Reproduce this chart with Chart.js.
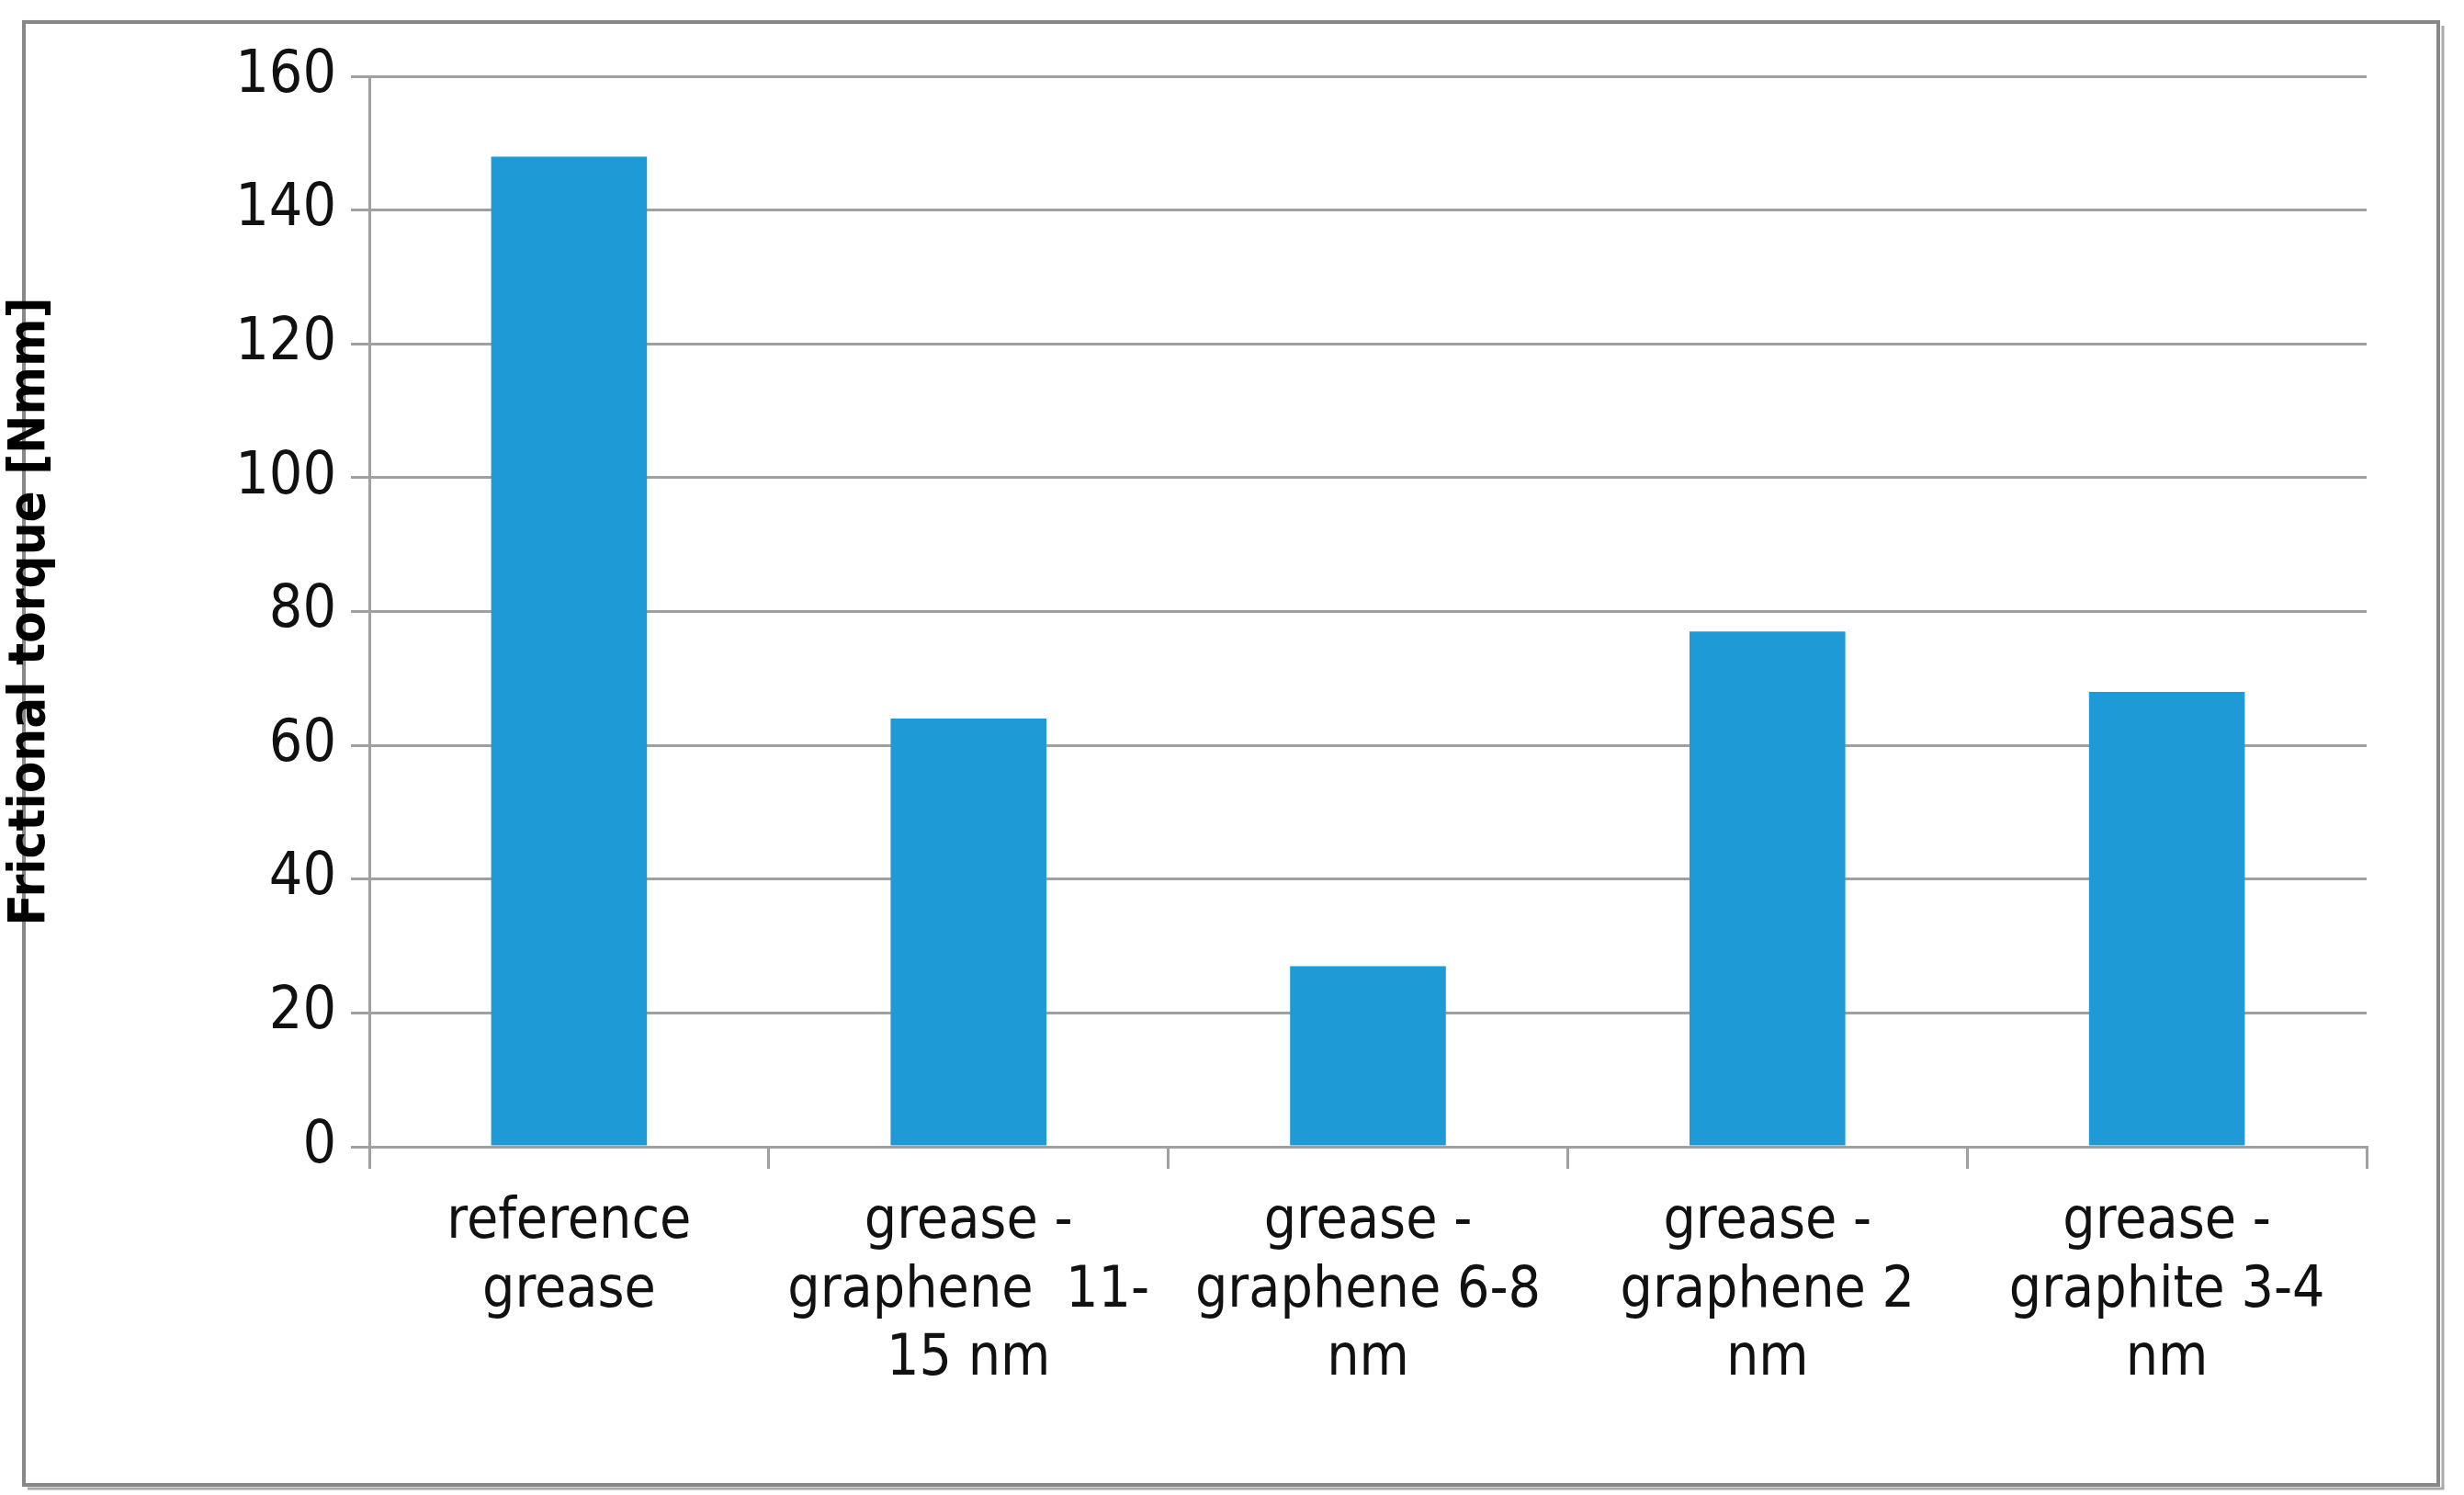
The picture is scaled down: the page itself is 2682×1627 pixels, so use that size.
<!DOCTYPE html>
<html><head><meta charset="utf-8">
<script src="https://cdn.jsdelivr.net/npm/chart.js@4/dist/chart.umd.min.js"></script>
<style>html,body{margin:0;padding:0;background:#fff}#w{width:2682px;height:1627px}</style>
</head><body><div id="w"><canvas id="c"></canvas></div>
<script>
const categories = [
  ['reference', 'grease'],
  ['grease -', 'graphene  11-', '15 nm'],
  ['grease -', 'graphene 6-8', 'nm'],
  ['grease -', 'graphene 2', 'nm'],
  ['grease -', 'graphite 3-4', 'nm']
];
const torque = [148, 64, 27, 77, 68];
const yTicks = [0, 20, 40, 60, 80, 100, 120, 140, 160];
const yTitle = 'Frictional torque [Nmm]';

const FONT = "'Liberation Sans Narrow', 'DejaVu Sans Condensed', 'Liberation Sans', sans-serif";
const frame = {
  id: 'frame',
  beforeDraw(chart) {
    const ctx = chart.ctx;
    ctx.save();
    ctx.fillStyle = '#fff';
    ctx.fillRect(0, 0, chart.width, chart.height);
    ctx.strokeStyle = '#888';
    ctx.lineWidth = 4;
    ctx.strokeRect(26, 24, 2628, 1592);
    ctx.strokeStyle = '#aaa';
    ctx.lineWidth = 3;
    ctx.beginPath(); ctx.moveTo(2659, 28); ctx.lineTo(2659, 1620); ctx.lineTo(30, 1620); ctx.stroke();
    ctx.restore();
  }
};
new Chart(document.getElementById('c'), {
  type: 'bar',
  data: { labels: categories, datasets: [{ data: torque, backgroundColor: '#1E9BD7', borderWidth: 0, categoryPercentage: 1, barPercentage: 0.39 }] },
  options: {
    responsive: true, maintainAspectRatio: false, animation: false, devicePixelRatio: 1,
    layout: { padding: { top: 83, right: 106, bottom: 0, left: 0 } },
    plugins: { legend: { display: false }, tooltip: { enabled: false } },
    scales: {
      x: {
        offset: true,
        grid: { drawOnChartArea: false, offset: true, color: '#a0a0a0', lineWidth: 3, tickLength: 24 },
        border: { color: '#a0a0a0', width: 3 },
        ticks: { color: '#111', font: { family: FONT, size: 62 }, padding: 22, maxRotation: 0, autoSkip: false, lineHeight: 1.45 },
        afterFit: s => { s.height = 379; }
      },
      y: {
        min: 0, max: 160,
        afterBuildTicks: s => { s.ticks = yTicks.map(v => ({ value: v })); },
        grid: { color: '#a0a0a0', lineWidth: 3, tickLength: 20 },
        border: { color: '#a0a0a0', width: 3 },
        ticks: { color: '#111', font: { family: FONT, size: 64 }, padding: 16 },
        title: { display: true, text: yTitle, color: '#000', font: { family: FONT, size: 56, weight: 'bold' }, padding: { top: 0, bottom: 0 } },
        afterFit: s => { s.width = 402; }
      }
    }
  },
  plugins: [frame]
});
</script></body></html>
